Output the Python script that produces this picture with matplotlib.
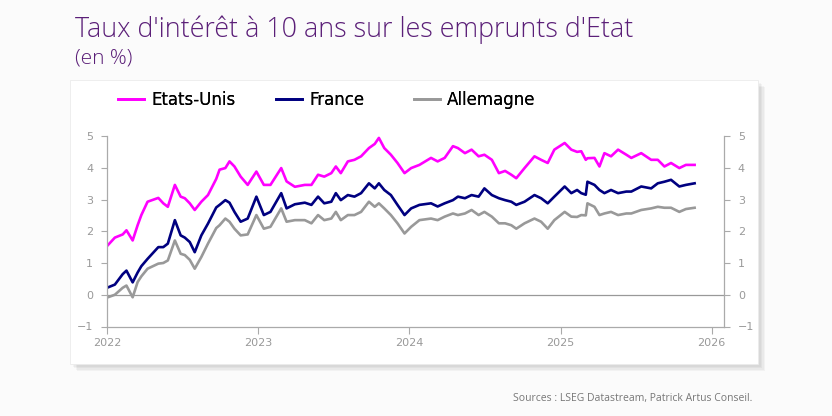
import matplotlib
matplotlib.use("Agg")
import matplotlib.pyplot as plt
from matplotlib.patches import Rectangle
import pandas as pd

dates = pd.to_datetime([
    "2022-01-03","2022-01-20","2022-02-08","2022-02-17","2022-03-04","2022-03-16","2022-03-25","2022-04-09",
    "2022-05-05","2022-05-17","2022-05-28","2022-06-14","2022-06-28","2022-07-08","2022-07-20","2022-08-01",
    "2022-08-17","2022-09-02","2022-09-22","2022-09-30","2022-10-14","2022-10-24","2022-11-05","2022-11-20",
    "2022-12-07","2022-12-28","2023-01-15","2023-01-31","2023-02-26","2023-03-11","2023-03-31","2023-04-24",
    "2023-05-10","2023-05-26","2023-06-10","2023-06-27","2023-07-08","2023-07-20","2023-08-06","2023-08-22",
    "2023-09-07","2023-09-26","2023-10-10","2023-10-20","2023-11-02","2023-11-18","2023-12-04","2023-12-21",
    "2024-01-06","2024-01-26","2024-02-23","2024-03-10","2024-03-27","2024-04-16","2024-04-28","2024-05-15",
    "2024-05-31","2024-06-17","2024-07-01","2024-07-19","2024-08-05","2024-08-20","2024-09-04","2024-09-16",
    "2024-10-06","2024-10-30","2024-11-15","2024-12-01","2024-12-17","2025-01-11","2025-01-27","2025-02-10",
    "2025-02-20","2025-03-03","2025-03-07","2025-03-24","2025-04-05","2025-04-17","2025-05-03","2025-05-20",
    "2025-06-09","2025-06-21","2025-07-15","2025-08-08","2025-08-24","2025-09-09","2025-09-25","2025-10-15",
    "2025-10-31","2025-11-21",
])

etats_unis = [
    1.56, 1.80, 1.90, 2.03, 1.71, 2.19, 2.51, 2.93,
    3.05, 2.88, 2.77, 3.46, 3.09, 3.04, 2.88, 2.67,
    2.93, 3.14, 3.65, 3.94, 3.99, 4.20, 4.04, 3.72,
    3.46, 3.88, 3.46, 3.46, 3.99, 3.57, 3.40, 3.46,
    3.46, 3.78, 3.72, 3.83, 4.04, 3.83, 4.20, 4.25,
    4.36, 4.62, 4.75, 4.94, 4.62, 4.41, 4.15, 3.83,
    3.99, 4.09, 4.31, 4.20, 4.31, 4.68, 4.62, 4.46,
    4.57, 4.36, 4.41, 4.25, 3.83, 3.90, 3.78, 3.67,
    3.99, 4.36, 4.25, 4.15, 4.57, 4.78, 4.57, 4.50,
    4.52, 4.25, 4.30, 4.31, 4.04, 4.46, 4.36, 4.57,
    4.41, 4.31, 4.46, 4.25, 4.25, 4.04, 4.15, 3.99,
    4.09, 4.09,
]

france = [
    0.23, 0.32, 0.65, 0.76, 0.39, 0.70, 0.90, 1.13,
    1.50, 1.50, 1.61, 2.35, 1.87, 1.80, 1.66, 1.34,
    1.87, 2.24, 2.75, 2.83, 2.98, 2.90, 2.61, 2.30,
    2.40, 3.09, 2.51, 2.61, 3.20, 2.72, 2.85, 2.90,
    2.83, 3.09, 2.88, 2.93, 3.20, 2.98, 3.14, 3.09,
    3.20, 3.51, 3.35, 3.51, 3.30, 3.14, 2.83, 2.51,
    2.72, 2.83, 2.88, 2.78, 2.88, 2.98, 3.09, 3.04,
    3.14, 3.09, 3.35, 3.14, 3.04, 2.98, 2.93, 2.83,
    2.93, 3.14, 3.04, 2.88, 3.09, 3.41, 3.20, 3.30,
    3.20, 3.15, 3.56, 3.46, 3.30, 3.20, 3.30, 3.20,
    3.25, 3.25, 3.41, 3.35, 3.51, 3.56, 3.62, 3.41,
    3.46, 3.51,
]

allemagne = [
    -0.08, 0.00, 0.22, 0.29, -0.08, 0.40, 0.58, 0.82,
    0.98, 1.00, 1.08, 1.71, 1.29, 1.25, 1.10, 0.82,
    1.19, 1.61, 2.10, 2.19, 2.40, 2.30, 2.08, 1.87,
    1.90, 2.51, 2.08, 2.14, 2.72, 2.30, 2.35, 2.35,
    2.25, 2.51, 2.35, 2.40, 2.61, 2.35, 2.51, 2.51,
    2.61, 2.93, 2.77, 2.88, 2.72, 2.51, 2.25, 1.93,
    2.14, 2.35, 2.40, 2.35, 2.46, 2.56, 2.51, 2.56,
    2.67, 2.51, 2.61, 2.46, 2.25, 2.25, 2.19, 2.08,
    2.25, 2.40, 2.30, 2.08, 2.35, 2.61, 2.46, 2.45,
    2.51, 2.50, 2.88, 2.77, 2.51, 2.56, 2.61, 2.51,
    2.56, 2.56, 2.67, 2.72, 2.77, 2.74, 2.74, 2.61,
    2.70, 2.74,
]

series_names = ["Etats-Unis", "France", "Allemagne"]
series_colors = ["#ff00ff", "#000080", "#999999"]
year_ticks = ["2022", "2023", "2024", "2025", "2026"]
y_ticks = [-1, 0, 1, 2, 3, 4, 5]

W, H = 832, 416
fig = plt.figure(figsize=(W / 100, H / 100), dpi=100)
fig.patch.set_facecolor("#fbfbfb")

def fx(px): return px / W
def fy(py): return 1 - py / H

# panel with soft shadow
for i in range(5):
    off = 1 + i * 1.5
    fig.patches.append(Rectangle((fx(70 + off), fy(364 + off)), fx(688), (364 - 80) / H,
                                 transform=fig.transFigure, facecolor="#000000", alpha=0.035,
                                 edgecolor="none", zorder=0))
fig.patches.append(Rectangle((fx(70), fy(364)), fx(688), (364 - 80) / H,
                             transform=fig.transFigure, facecolor="white",
                             edgecolor="#ececec", lw=0.6, zorder=1))

ax = fig.add_axes([fx(107), fy(326.5), fx(724 - 107), (326.5 - 136) / H])
ax.set_facecolor("none")
ax.set_zorder(2)

vals = [etats_unis, france, allemagne]
handles = []
for name, col, v in zip(series_names, series_colors, vals):
    h, = ax.plot(dates, v, color=col, lw=1.9, label=name, solid_joinstyle="round")
    handles.append(h)

ax.axhline(0, color="#999999", lw=0.9, zorder=0)
ax.set_ylim(-1, 5)
ax.set_xlim(pd.Timestamp("2022-01-01"), pd.Timestamp("2026-01-31"))
ax.set_yticks(y_ticks)
ax.set_xticks([pd.Timestamp(f"{y}-01-01") for y in year_ticks])
ax.set_xticklabels(year_ticks)

ax.spines["top"].set_visible(False)
for s in ["left", "right", "bottom"]:
    ax.spines[s].set_color("#aaaaaa")
    ax.spines[s].set_linewidth(0.9)

ax.tick_params(axis="y", which="both", left=True, right=True, labelleft=True, labelright=True,
               direction="out", length=4, width=0.8, color="#aaaaaa",
               labelcolor="#999999", labelsize=8, pad=6)
ax.tick_params(axis="x", direction="out", length=5, width=0.8, color="#aaaaaa",
               labelcolor="#999999", labelsize=8, pad=3)

# legend: one entry per block, positioned like the reference
leg_x = [118, 276, 414]
for h, name, x in zip(handles, series_names, leg_x):
    lg = fig.legend(handles=[h], labels=[name], loc="center left",
                    bbox_to_anchor=(fx(x), fy(100)), frameon=False,
                    handlelength=1.55, handletextpad=0.45, borderaxespad=0, borderpad=0,
                    prop={"family": "DejaVu Sans", "size": 12})
    for lh in lg.get_lines():
        lh.set_linewidth(2.0)
    fig.add_artist(lg)

fig.text(fx(75), fy(30), "Taux d'intérêt à 10 ans sur les emprunts d'Etat",
         color="#5b1f78", fontsize=19.4, family=["Open Sans", "DejaVu Sans"], va="center", ha="left",
         fontweight="light")
fig.text(fx(75), fy(58), "(en %)", color="#5b1f78", fontsize=15,
         family=["Open Sans", "DejaVu Sans"], va="center", ha="left", fontweight="light")
fig.text(fx(752), fy(398), "Sources : LSEG Datastream, Patrick Artus Conseil.",
         color="#777777", fontsize=7.5, family=["Open Sans", "DejaVu Sans"], va="center", ha="right")

fig.savefig("out.png", dpi=100, facecolor=fig.get_facecolor())
